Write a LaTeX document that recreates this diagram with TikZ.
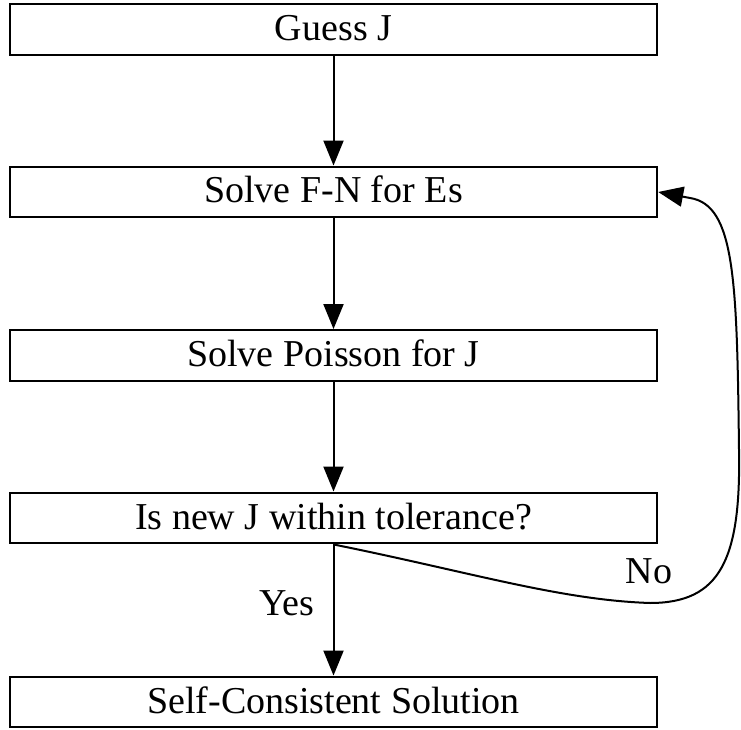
\documentclass[tikz,border=0pt]{standalone}
\usepackage{fontspec}
\setmainfont{Liberation Serif}
\usetikzlibrary{arrows.meta}
\tikzset{
  stepbox/.style={draw, line width=2.4pt, minimum width=647pt, minimum height=50.5pt,
    inner sep=0pt, text height=22pt, text depth=0pt,
    font=\fontsize{38}{40}\selectfont},
  lbl/.style={inner sep=0pt, anchor=base, font=\fontsize{38}{40}\selectfont},
  flow/.style={line width=2pt, -{Triangle[length=25pt, width=20pt]}}
}
\begin{document}
\begin{tikzpicture}[x=1pt, y=1pt]
\useasboundingbox (0,0) rectangle (741,729);
\node[stepbox] (b1) at (333.5,699.5) {Guess J};
\node[stepbox] (b2) at (333.5,537) {Solve F-N for Es};
\node[stepbox] (b3) at (333.5,373.5) {Solve Poisson for J};
\node[stepbox] (b4) at (333.5,211) {Is new J within tolerance?};
\node[stepbox] (b5) at (333.5,27) {Self-Consistent Solution};
\draw[flow] (b1) -- (b2);
\draw[flow] (b2) -- (b3);
\draw[flow] (b3) -- (b4);
\draw[flow] (b4) -- (b5);
\coordinate (c1) at (650,126);
\coordinate (c2) at (739,279);
\coordinate (c3) at (690,531);
\draw[flow] (b4.south) .. controls (470,157) and (560,129) .. (c1)
  .. controls (720,126) and (741,169) .. (c2)
  .. controls (737,449) and (735,524) .. (c3)
  -- (b2.east);
\node[lbl] (yes) at (287,114) {Yes};
\node[lbl] (no) at (649,146) {No};
\end{tikzpicture}
\end{document}
